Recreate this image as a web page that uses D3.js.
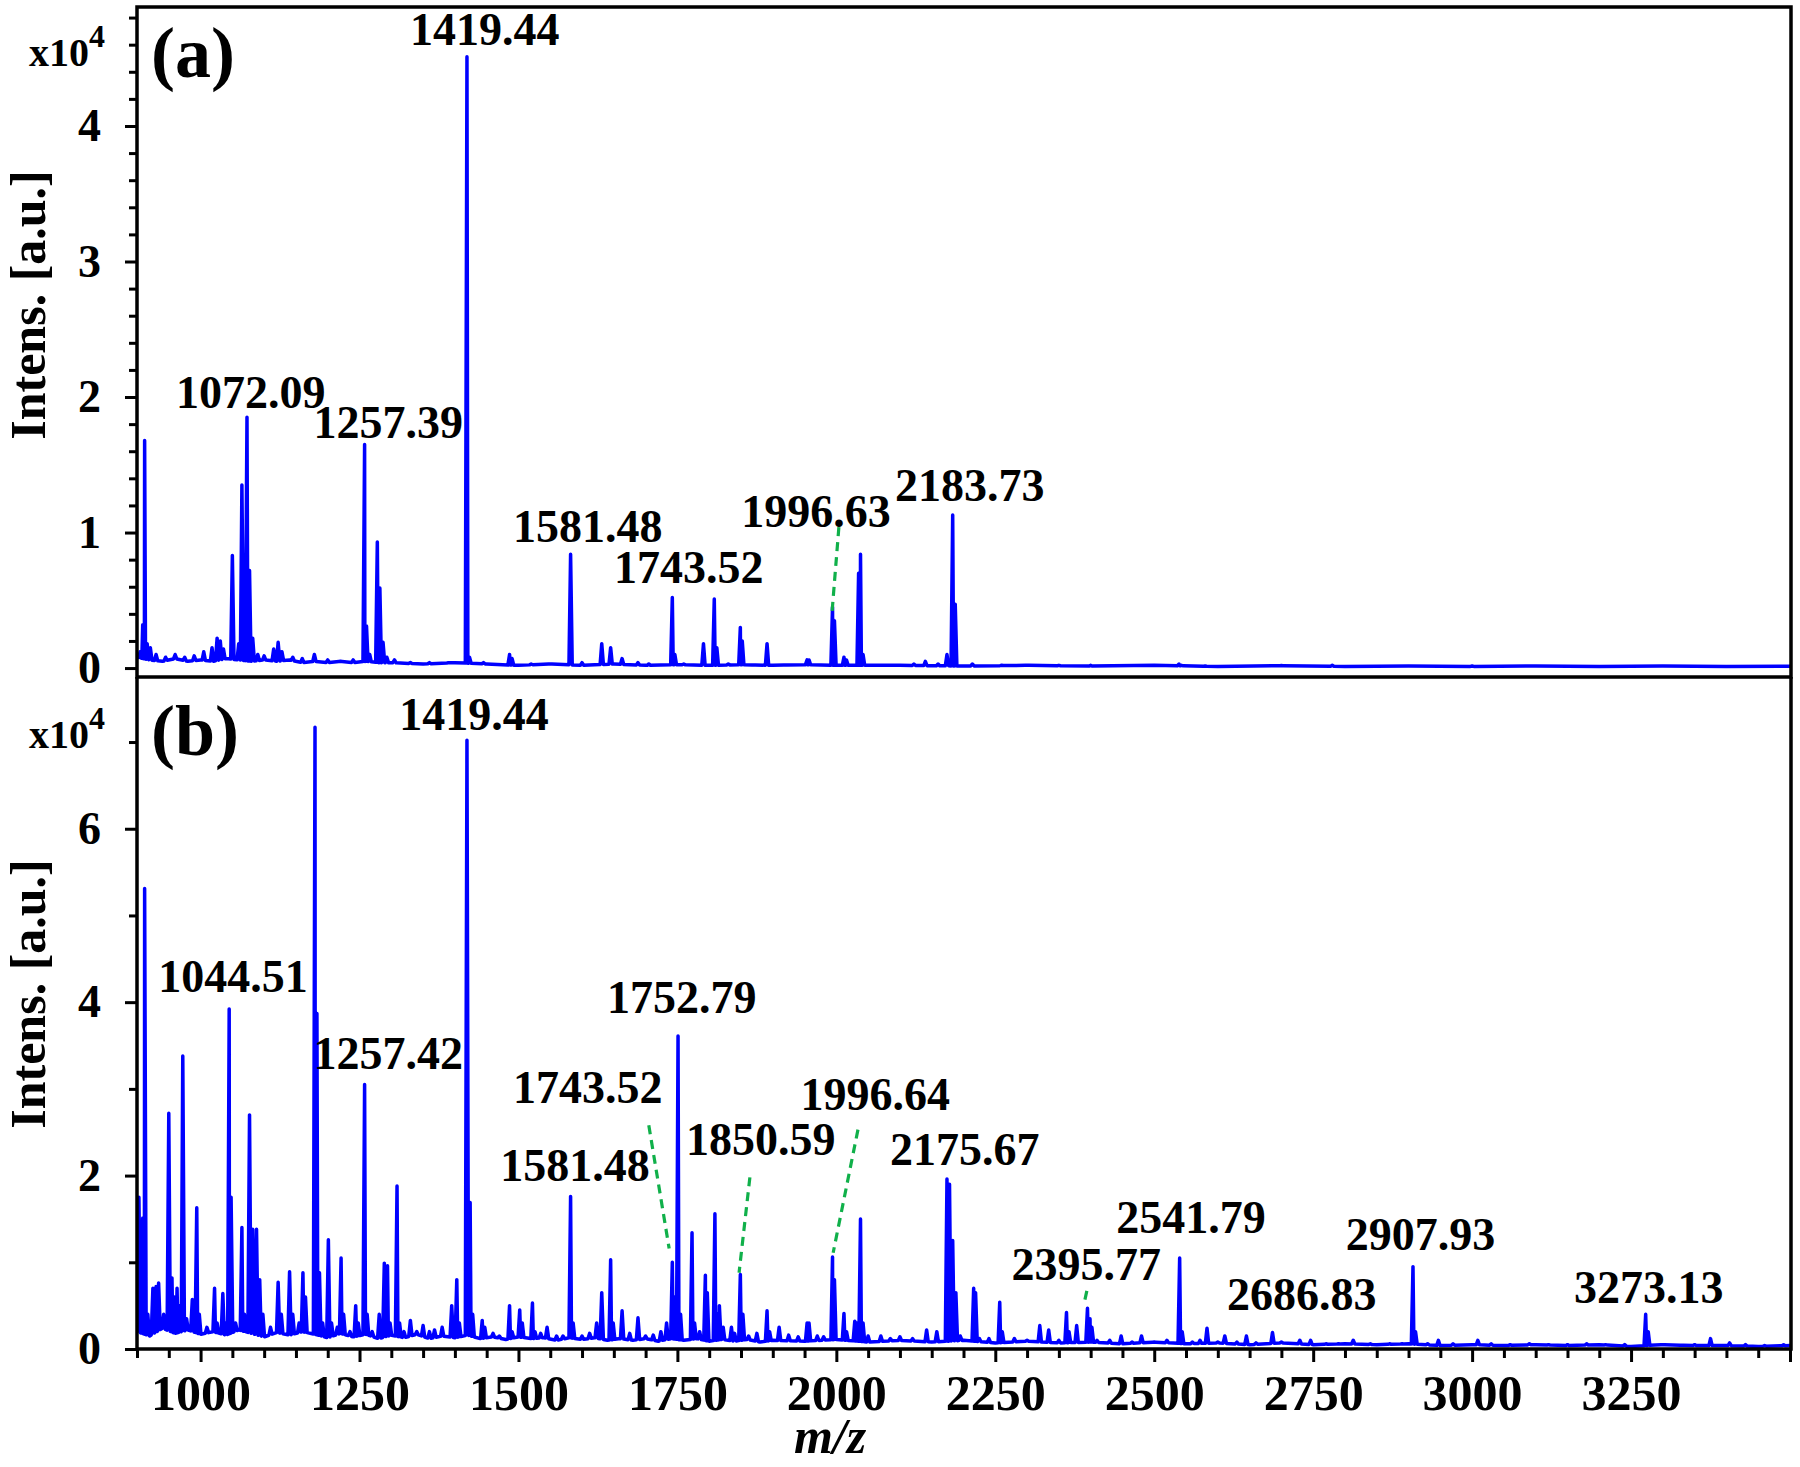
<!DOCTYPE html>
<html>
<head>
<meta charset="utf-8">
<script src="https://cdn.jsdelivr.net/npm/d3@7"></script>
<style>
  html, body { margin: 0; padding: 0; background: #fff; }
  svg { display: block; }
  text { font-family: "Liberation Serif", "Times New Roman", serif; font-weight: bold; fill: #000; }
</style>
</head>
<body>
<svg id="chart" width="1800" height="1467"></svg>
<script>
// ---------------- DATA ----------------
// x-axis
const xDomain = [900, 3500];
const xMajorTicks = [1000, 1250, 1500, 1750, 2000, 2250, 2500, 2750, 3000, 3250, 3500];
const xTickLabels = [1000, 1250, 1500, 1750, 2000, 2250, 2500, 2750, 3000, 3250];
// y-axes (units of 10^4)
const yDomainA = [-0.066, 4.878];
const yMajorA = [0, 1, 2, 3, 4];
const yDomainB = [0, 7.75];
const yMajorB = [0, 2, 4, 6];
const yMinorB = [1, 3, 5, 7];

// baseline knots [m/z, intensity x10^4]
const baselineA = [[900,0.08],[920,0.06],[940,0.05],[960,0.07],[980,0.05],[1000,0.06],[1020,0.05],[1040,0.07],[1060,0.06],[1080,0.05],[1100,0.06],[1120,0.05],[1140,0.06],[1160,0.04],[1180,0.05],[1200,0.04],[1220,0.05],[1240,0.04],[1260,0.05],[1280,0.04],[1300,0.04],[1350,0.03],[1400,0.04],[1450,0.03],[1500,0.02],[1550,0.03],[1600,0.02],[1650,0.03],[1700,0.02],[1750,0.025],[1800,0.02],[1850,0.025],[1900,0.02],[1950,0.025],[2000,0.02],[2100,0.02],[2200,0.015],[2300,0.02],[2400,0.015],[2500,0.02],[2600,0.012],[2700,0.018],[2800,0.012],[2900,0.016],[3000,0.012],[3100,0.016],[3200,0.012],[3300,0.015],[3400,0.012],[3500,0.014]];
const baselineB = [[900,0.2],[920,0.15],[940,0.24],[960,0.18],[980,0.22],[1000,0.17],[1020,0.2],[1040,0.16],[1060,0.22],[1080,0.18],[1100,0.14],[1120,0.19],[1140,0.16],[1160,0.2],[1180,0.17],[1200,0.13],[1220,0.18],[1240,0.14],[1260,0.17],[1280,0.12],[1300,0.16],[1320,0.13],[1340,0.17],[1360,0.12],[1380,0.15],[1400,0.13],[1420,0.16],[1440,0.12],[1460,0.14],[1480,0.11],[1500,0.14],[1520,0.12],[1540,0.13],[1560,0.1],[1580,0.13],[1600,0.11],[1620,0.13],[1640,0.1],[1660,0.12],[1680,0.1],[1700,0.12],[1720,0.09],[1740,0.12],[1760,0.1],[1780,0.12],[1800,0.09],[1820,0.11],[1840,0.09],[1860,0.11],[1880,0.08],[1900,0.1],[1950,0.09],[2000,0.11],[2050,0.08],[2100,0.1],[2150,0.08],[2200,0.1],[2250,0.07],[2300,0.09],[2350,0.07],[2400,0.08],[2450,0.06],[2500,0.08],[2550,0.06],[2600,0.07],[2650,0.05],[2700,0.07],[2750,0.05],[2800,0.06],[2850,0.05],[2900,0.06],[2950,0.04],[3000,0.05],[3050,0.04],[3100,0.05],[3150,0.04],[3200,0.05],[3250,0.03],[3300,0.05],[3350,0.04],[3400,0.04],[3450,0.03],[3500,0.04]];

// peaks [m/z, top intensity x10^4]
const peaksA = [[905,0.12],[909,0.32],[912,1.68],[916,0.18],[921,0.15],[930,0.1],[945,0.08],[960,0.1],[975,0.08],[990,0.09],[1005,0.12],[1018,0.15],[1026,0.22],[1031,0.2],[1036,0.14],[1050,0.83],[1060,0.18],[1065,1.35],[1073,1.85],[1077,0.72],[1082,0.22],[1090,0.1],[1100,0.09],[1115,0.14],[1122,0.19],[1128,0.12],[1145,0.08],[1160,0.07],[1179,0.1],[1200,0.06],[1220,0.05],[1240,0.06],[1258,1.65],[1261,0.31],[1266,0.1],[1278,0.93],[1282,0.59],[1287,0.19],[1293,0.08],[1305,0.06],[1330,0.04],[1360,0.04],[1390,0.04],[1419,4.51],[1423,0.08],[1445,0.04],[1486,0.1],[1490,0.07],[1520,0.03],[1550,0.03],[1582,0.84],[1600,0.04],[1631,0.18],[1645,0.15],[1663,0.07],[1688,0.04],[1705,0.03],[1742,0.52],[1746,0.1],[1760,0.03],[1791,0.18],[1808,0.51],[1812,0.15],[1830,0.03],[1849,0.30],[1852,0.2],[1870,0.02],[1891,0.18],[1920,0.02],[1954,0.06],[1957,0.06],[1994,0.45],[1997,0.35],[2012,0.08],[2016,0.06],[2035,0.7],[2038,0.84],[2042,0.1],[2060,0.02],[2122,0.03],[2140,0.05],[2160,0.03],[2174,0.1],[2183,1.13],[2187,0.47],[2214,0.03],[2260,0.02],[2300,0.02],[2350,0.02],[2400,0.02],[2539,0.03],[2543,0.02],[2580,0.015],[2700,0.015],[2780,0.02],[3000,0.015]];
const peaksB = [[903,1.75],[909,1.51],[912,5.31],[917,0.4],[925,0.7],[930,0.72],[934,0.76],[942,0.4],[950,2.72],[955,0.82],[959,0.6],[963,0.7],[967,0.5],[972,3.38],[978,0.35],[987,0.57],[994,1.63],[998,0.4],[1010,0.25],[1022,0.7],[1026,0.3],[1035,0.64],[1040,0.3],[1045,3.92],[1048,1.75],[1055,0.3],[1065,1.4],[1069,0.4],[1077,2.70],[1082,1.38],[1088,1.38],[1093,0.8],[1098,0.4],[1110,0.25],[1122,0.77],[1127,0.4],[1140,0.89],[1145,0.4],[1155,0.3],[1161,0.88],[1165,0.6],[1180,7.17],[1183,3.87],[1187,0.88],[1192,0.3],[1201,1.26],[1206,0.3],[1215,0.25],[1221,1.05],[1225,0.4],[1235,0.2],[1244,0.5],[1248,0.3],[1258,3.05],[1262,0.4],[1270,0.2],[1281,0.4],[1289,0.99],[1294,0.96],[1298,0.3],[1309,1.88],[1313,0.3],[1320,0.2],[1330,0.33],[1340,0.2],[1350,0.27],[1360,0.2],[1368,0.22],[1380,0.25],[1395,0.5],[1403,0.8],[1407,0.3],[1419,7.02],[1424,1.69],[1428,0.4],[1443,0.33],[1447,0.25],[1460,0.18],[1470,0.15],[1486,0.5],[1490,0.2],[1502,0.45],[1506,0.3],[1522,0.53],[1526,0.2],[1535,0.18],[1545,0.25],[1560,0.15],[1570,0.15],[1582,1.76],[1586,0.3],[1600,0.15],[1612,0.18],[1623,0.3],[1631,0.65],[1645,1.03],[1649,0.3],[1663,0.44],[1675,0.18],[1688,0.36],[1700,0.15],[1712,0.16],[1724,0.2],[1733,0.3],[1742,1.0],[1746,0.6],[1751,3.61],[1755,0.4],[1773,1.34],[1777,0.3],[1785,0.2],[1794,0.85],[1797,0.65],[1809,1.56],[1813,0.4],[1816,0.5],[1822,0.25],[1835,0.25],[1840,0.18],[1849,0.86],[1853,0.4],[1862,0.15],[1875,0.18],[1891,0.44],[1895,0.2],[1910,0.25],[1925,0.16],[1940,0.14],[1954,0.3],[1957,0.3],[1970,0.15],[1980,0.14],[1994,1.06],[1997,0.8],[2012,0.41],[2016,0.2],[2029,0.32],[2032,0.3],[2038,1.5],[2042,0.3],[2050,0.15],[2070,0.15],[2085,0.12],[2100,0.14],[2120,0.12],[2142,0.22],[2158,0.2],[2174,1.96],[2178,1.9],[2183,1.25],[2188,0.65],[2195,0.15],[2216,0.70],[2219,0.65],[2225,0.12],[2240,0.12],[2257,0.54],[2261,0.2],[2280,0.12],[2300,0.1],[2320,0.27],[2334,0.22],[2350,0.1],[2362,0.42],[2366,0.2],[2378,0.27],[2395,0.47],[2399,0.35],[2402,0.25],[2410,0.1],[2430,0.1],[2448,0.15],[2465,0.08],[2480,0.15],[2500,0.08],[2520,0.1],[2540,1.05],[2544,0.2],[2560,0.08],[2572,0.1],[2583,0.24],[2600,0.08],[2611,0.15],[2630,0.08],[2645,0.15],[2660,0.07],[2686,0.19],[2700,0.08],[2729,0.1],[2746,0.1],[2770,0.06],[2790,0.06],[2813,0.1],[2840,0.06],[2870,0.06],[2890,0.06],[2907,0.95],[2911,0.2],[2930,0.06],[2947,0.1],[2970,0.06],[3009,0.1],[3030,0.06],[3060,0.05],[3090,0.06],[3120,0.05],[3150,0.05],[3180,0.06],[3210,0.05],[3240,0.05],[3273,0.40],[3277,0.2],[3300,0.05],[3330,0.04],[3350,0.05],[3375,0.12],[3405,0.07],[3430,0.05],[3460,0.04],[3490,0.05]];

// peak labels: [text, label m/z (centre), label intensity (baseline)]
const labelsA = [["1419.44",1447,4.60],["1072.09",1079,1.92],["1257.39",1295,1.70],["1581.48",1609,0.93],["1743.52",1768,0.63],["1996.63",1968,1.04],["2183.73",2210,1.23]];
const labelsB = [["1419.44",1430,7.14],["1044.51",1051,4.12],["1257.42",1295,3.23],["1752.79",1757,3.88],["1743.52",1609,2.84],["1581.48",1589,1.94],["1850.59",1881,2.24],["1996.64",2061,2.76],["2175.67",2202,2.12],["2395.77",2393,0.80],["2541.79",2558,1.34],["2686.83",2732,0.45],["2907.93",2919,1.14],["3273.13",3278,0.53]];
// green leader lines: [m/z1, int1, m/z2, int2]
const leadersA = [[2004,1.04,1993,0.40]];
const leadersB = [[1705,2.58,1737,1.16],[1864,1.98,1847,0.88],[2034,2.53,1995,1.11],[2394,0.67,2389,0.50]];

// ---------------- DRAW ----------------
const svg = d3.select("#chart");
svg.append("rect").attr("width",1800).attr("height",1467).attr("fill","#fff");

const L = 137, R = 1790, RB = 1791, TOP = 7, MID = 677, BOT = 1349;
const x = d3.scaleLinear().domain(xDomain).range([L, R]);
const ya = d3.scaleLinear().domain(yDomainA).range([MID, TOP]);
const yb = d3.scaleLinear().domain(yDomainB).range([BOT, MID]);

const defs = svg.append("defs");
defs.append("clipPath").attr("id","clipA").append("rect").attr("x",L).attr("y",TOP).attr("width",RB-L).attr("height",MID-TOP);
defs.append("clipPath").attr("id","clipB").append("rect").attr("x",L).attr("y",MID).attr("width",RB-L).attr("height",BOT-MID);

const HW = 2.6;
function buildSeries(base, peaks) {
  const bf = d3.scaleLinear().domain(base.map(d=>d[0])).range(base.map(d=>d[1]));
  const pts = base.filter(b => !peaks.some(p => Math.abs(p[0]-b[0]) <= HW)).map(b => [b[0], b[1]]);
  peaks.forEach(p => {
    pts.push([p[0]-HW, bf(p[0]-HW)], [p[0], Math.max(p[1], bf(p[0]))], [p[0]+HW, bf(p[0]+HW)]);
  });
  pts.sort((a,b)=>a[0]-b[0]);
  return pts;
}

function drawPanel(y, base, peaks, clip, labels, leaders) {
  const pts = buildSeries(base, peaks);
  const line = d3.line().x(d=>x(d[0])).y(d=>y(d[1]));
  svg.append("path").attr("d", line(pts)).attr("clip-path", `url(#${clip})`)
    .attr("fill","none").attr("stroke","#0000ff").attr("stroke-width",3.5).attr("stroke-linejoin","round");
  svg.append("g").selectAll("line").data(leaders).join("line")
    .attr("x1",d=>x(d[0])).attr("y1",d=>y(d[1])).attr("x2",d=>x(d[2])).attr("y2",d=>y(d[3]))
    .attr("stroke","#10b04a").attr("stroke-width",3.2).attr("stroke-dasharray","9,6");
  svg.append("g").selectAll("text").data(labels).join("text")
    .attr("x",d=>x(d[1])).attr("y",d=>y(d[2])).attr("text-anchor","middle")
    .style("font-size","46px").text(d=>d[0]);
}

drawPanel(ya, baselineA, peaksA, "clipA", labelsA, leadersA);
drawPanel(yb, baselineB, peaksB, "clipB", labelsB, leadersB);

// y axes
function styleAxis(g, fs) {
  g.select(".domain").remove();
  g.selectAll(".tick line").attr("stroke","#000").attr("stroke-width",3);
  g.selectAll(".tick text").style("font-size", fs).attr("fill","#000");
}
const yMinorA = d3.range(0, 4.81, 0.2).filter(v => Math.abs(v - Math.round(v)) > 0.01);
svg.append("g").attr("transform",`translate(${L},0)`)
  .call(d3.axisLeft(ya).tickValues(yMajorA).tickSize(12).tickPadding(24).tickFormat(d3.format("d")))
  .call(g => styleAxis(g, "46px"));
svg.append("g").attr("transform",`translate(${L},0)`)
  .call(d3.axisLeft(ya).tickValues(yMinorA).tickSize(8).tickFormat(""))
  .call(g => styleAxis(g, "46px"));
svg.append("g").attr("transform",`translate(${L},0)`)
  .call(d3.axisLeft(yb).tickValues(yMajorB).tickSize(12).tickPadding(24).tickFormat(d3.format("d")))
  .call(g => styleAxis(g, "46px"));
svg.append("g").attr("transform",`translate(${L},0)`)
  .call(d3.axisLeft(yb).tickValues(yMinorB).tickSize(8).tickFormat(""))
  .call(g => styleAxis(g, "46px"));

// x axis
const xMinor = d3.range(900, 3501, 50).filter(v => v % 250 !== 0);
svg.append("g").attr("transform",`translate(0,${BOT})`)
  .call(d3.axisBottom(x).tickValues(xMajorTicks).tickSize(13).tickPadding(12)
    .tickFormat(d => xTickLabels.includes(d) ? d : ""))
  .call(g => styleAxis(g, "50px"));
svg.append("g").attr("transform",`translate(0,${BOT})`)
  .call(d3.axisBottom(x).tickValues(xMinor).tickSize(9).tickFormat(""))
  .call(g => styleAxis(g, "50px"));

// frames
const fr = svg.append("g").attr("fill","none").attr("stroke","#000").attr("stroke-width",3.5);
fr.append("rect").attr("x",L).attr("y",TOP).attr("width",RB-L).attr("height",MID-TOP);
fr.append("path").attr("d",`M${L},${MID}V${BOT}H${RB}V${MID}`);

// panel letters, multipliers, axis titles
svg.append("text").attr("x",151).attr("y",77).style("font-size","72px").text("(a)");
svg.append("text").attr("x",151).attr("y",755).style("font-size","72px").text("(b)");
[[66,47],[748,729]].forEach(([yb0, ys]) => {
  svg.append("text").attr("x",29).attr("y",yb0).style("font-size","40px").text("x10");
  svg.append("text").attr("x",89).attr("y",ys).style("font-size","32px").text("4");
});
[305, 994].forEach(cy => {
  svg.append("text").attr("transform",`translate(45,${cy}) rotate(-90)`)
    .attr("text-anchor","middle").style("font-size","50px").text("Intens. [a.u.]");
});
svg.append("text").attr("x",830).attr("y",1453).attr("text-anchor","middle")
  .style("font-size","50px").style("font-style","italic").text("m/z");
</script>
</body>
</html>
